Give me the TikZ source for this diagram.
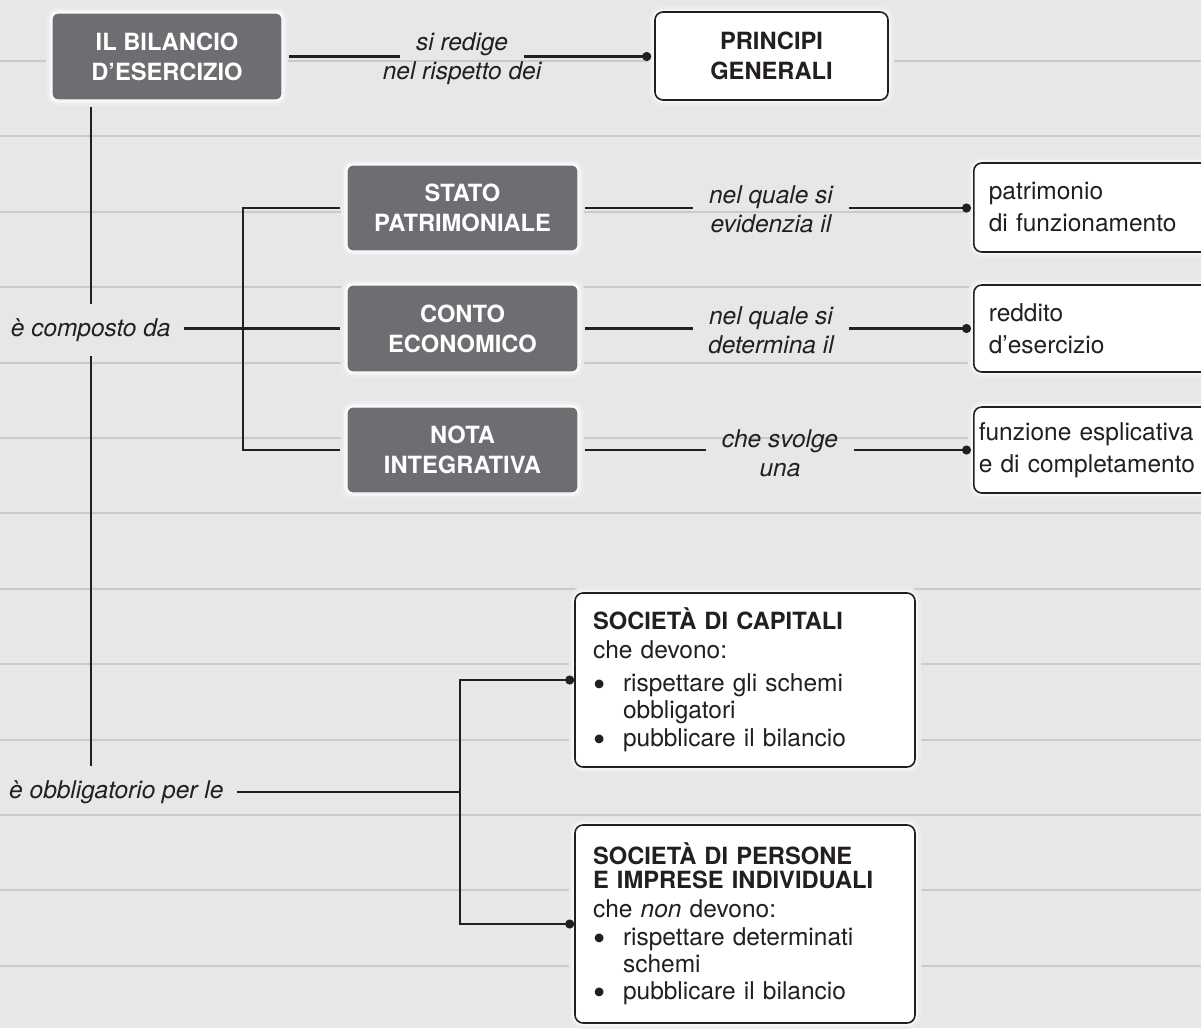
\documentclass[tikz,border=0pt]{standalone}
\usepackage{fontspec}
\setmainfont{TeX Gyre Heros}
\usetikzlibrary{arrows.meta}

\definecolor{paper}{HTML}{E6E7E8}
\definecolor{ruling}{HTML}{C9CACC}
\definecolor{slate}{HTML}{6D6E71}
\definecolor{ink}{HTML}{231F20}
\definecolor{glowin}{HTML}{F5F5F5}
\definecolor{glowout}{HTML}{EBEBEC}

% text sizes used in the boxes
\newcommand\rmtxt{\fontsize{24.5}{27}\selectfont}
\newcommand\hdr{\bfseries\fontsize{23.7}{24}\selectfont}
\newcommand\bul{\makebox[30pt][l]{\hspace{0.5pt}\raisebox{-4.5pt}{\fontsize{35}{27}\selectfont •}}}
% two-line phrase: the gap in the connector follows the first line
\newcommand\duo[2]{\begin{tabular}[t]{@{}c@{}}#1\\\makebox[0pt]{#2}\end{tabular}}

\begin{document}
\begin{tikzpicture}[x=1pt,y=-1pt,
  halo/.style={preaction={draw=glowout,line width=12pt},
               preaction={draw=glowin,line width=6pt}},
  darkbox/.style={halo,rectangle,rounded corners=6pt,fill=slate,draw=white,
    line width=1.2pt,text=white,font=\bfseries\fontsize{23.7}{30}\selectfont,
    align=center,minimum width=231pt,minimum height=86pt,inner sep=0pt},
  whitebox/.style={halo,rectangle,rounded corners=8pt,fill=white,draw=ink,
    line width=1.6pt,text=ink},
  endbox/.style={whitebox,font=\fontsize{24.5}{32}\selectfont,text width=230pt,
    align=left,inner xsep=15pt,inner ysep=0pt,anchor=west},
  listbox/.style={whitebox,font=\rmtxt,text width=304pt,align=left,
    inner xsep=18pt,inner ysep=0pt},
  phrase/.style={text=ink,font=\itshape\fontsize{24.5}{29}\selectfont,
    inner xsep=16pt,inner ysep=0pt},
  link/.style={draw=ink,line width=2.2pt},
  pin/.style={-{Circle[length=9pt]}},
]
\useasboundingbox (0,0) rectangle (1201,1028);
\clip (0,0) rectangle (1201,1028);

% ruled paper
\fill[paper] (0,0) rectangle (1201,1028);
\foreach \k in {0,...,12}
  \draw[ruling,line width=2pt] (0,61+75.4*\k) -- (1201,61+75.4*\k);

% boxes
\node[darkbox,minimum width=230pt,minimum height=87pt] (bil) at (167,56.5) {IL BILANCIO\\D’ESERCIZIO};
\node[whitebox,font=\bfseries\fontsize{23.7}{30}\selectfont,align=center,
      minimum width=233pt,minimum height=88pt,inner sep=0pt] (prin) at (771.5,56) {PRINCIPI\\GENERALI};

\node[darkbox] (stato) at (462.5,208) {STATO\\PATRIMONIALE};
\node[darkbox,minimum height=87pt] (conto) at (462.5,328.5) {CONTO\\ECONOMICO};
\node[darkbox] (nota) at (462.5,450) {NOTA\\INTEGRATIVA};

\node[endbox,minimum height=89pt] (patr) at (973,207.5) {patrimonio\\di funzionamento};
\node[endbox,minimum height=87pt] (redd) at (973,328.5) {reddito\\d’esercizio};
\node[endbox,minimum height=86pt,inner xsep=5pt] (funz) at (973,450) {funzione esplicativa\\e di completamento};

\node[listbox,minimum height=174pt] (soc) at (745,680) {%
  {\hdr SOCIETÀ DI CAPITALI}\\[2pt]
  che devono:\\[6pt]
  \bul rispettare gli schemi\\
  \hspace*{30pt}obbligatori\\[1pt]
  \bul pubblicare il bilancio};
\node[listbox,minimum height=198pt] (pers) at (745,924) {%
  {\hdr SOCIETÀ DI PERSONE}\\[-3pt]
  {\hdr E IMPRESE INDIVIDUALI}\\[2pt]
  che \textit{non} devono:\\[1pt]
  \bul rispettare determinati\\
  \hspace*{30pt}schemi\\
  \bul pubblicare il bilancio};

% connector phrases
\node[phrase,anchor=base] (l0) at (462,50) {\duo{si redige}{nel rispetto dei}};
\node[phrase,anchor=base] (l1) at (771,203) {\duo{nel quale si}{evidenzia il}};
\node[phrase,anchor=base] (l2) at (771,324.5) {\duo{nel quale si}{determina il}};
\node[phrase,anchor=base] (l3) at (780,447) {\duo{che svolge}{una}};
\node[phrase,minimum height=52pt,inner xsep=13pt] (comp) at (90.7,330) {è composto da};
\node[phrase,minimum height=52pt,anchor=west,inner xsep=0pt] (obb) at (9,792) {è obbligatorio per le};

\coordinate (fork) at (243,0);
\coordinate (split) at (460,0);

% connectors
\draw[link,shorten <=6pt] (bil.east) -- (bil.east -| l0.west);
\draw[link,pin,shorten >=3pt] (l0.east |- bil.east) -- (bil.east -| prin.west);

\draw[link,shorten <=6pt] (comp |- bil.south) -- (comp.north);
\draw[link] (comp.south) -- (comp.south |- obb.north);
\draw[link,shorten >=6pt] (comp.east |- conto.west) -- (conto.west);
\draw[link,shorten <=6pt,shorten >=6pt]
  (stato.west) -- (fork |- stato.west) -- (fork |- nota.west) -- (nota.west);

\draw[link,shorten <=6pt] (stato.east) -- (stato.east -| l1.west);
\draw[link,pin,shorten >=2pt] (l1.east |- stato.east) -- (stato.east -| patr.west);
\draw[link,shorten <=6pt] (conto.east) -- (conto.east -| l2.west);
\draw[link,pin,shorten >=2pt] (l2.east |- conto.east) -- (conto.east -| redd.west);
\draw[link,shorten <=6pt] (nota.east) -- (nota.east -| l3.west);
\draw[link,pin,shorten >=2pt] (l3.east |- nota.east) -- (nota.east -| funz.west);

\draw[link,shorten <=13pt] (obb.east) -- (obb.east -| split);
\draw[link,{Circle[length=9pt]}-{Circle[length=9pt]}]
  (soc.west) -- (split |- soc.west) -- (split |- pers.west) -- (pers.west);
\end{tikzpicture}
\end{document}
